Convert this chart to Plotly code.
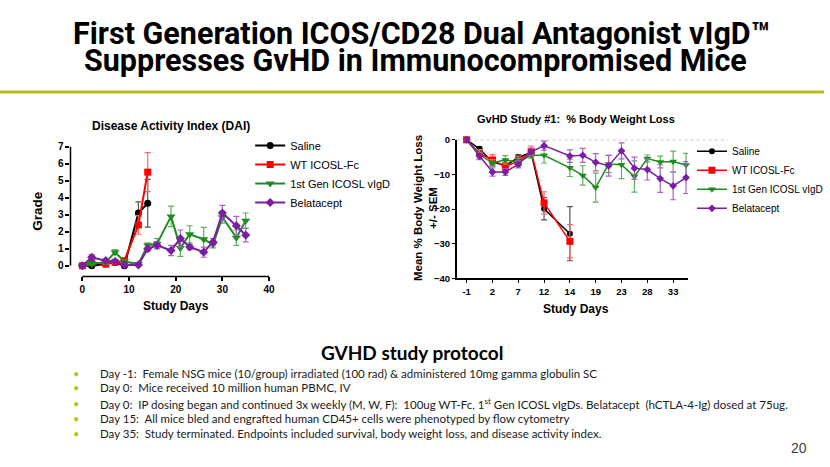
import plotly.graph_objects as go

W, H = 830, 467
def px(x): return x / W
def py(y): return 1 - y / H

# ---------------- Disease Activity Index (DAI) ----------------
dai_days_short = [0, 2, 5, 7, 9, 12, 14]
dai_saline = [0, 0, 0.1, 0.2, 0, 3.1, 3.67]
dai_saline_sem = [0, 0, 0.05, 0.1, 0, 0.65, 1.4]
dai_wt = [0, 0.2, 0.1, 0.2, 0.3, 2.4, 5.5]
dai_wt_sem = [0, 0.1, 0.05, 0.1, 0.1, 0.55, 1.15]
dai_days_long = [0, 2, 5, 7, 9, 12, 14, 16, 19, 21, 23, 26, 28, 30, 33, 35]
dai_gen1 = [0, 0.1, 0.2, 0.8, 0.25, 0.1, 1.2, 1.3, 2.9, 1.05, 1.85, 1.55, 1.25, 2.85, 1.65, 2.65]
dai_gen1_sem = [0, 0.05, 0.1, 0.15, 0.1, 0.05, 0.15, 0.3, 0.6, 0.5, 0.5, 0.7, 0.2, 0.35, 0.45, 0.45]
dai_bela = [0, 0.5, 0.3, 0.25, 0.05, 0.05, 1.0, 1.2, 0.9, 1.6, 1.1, 0.8, 1.4, 3.1, 2.35, 1.8]
dai_bela_sem = [0, 0.15, 0.1, 0.1, 0.05, 0.05, 0.15, 0.2, 0.3, 0.5, 0.15, 0.3, 0.2, 0.45, 0.55, 0.4]
dai_xticks = [0, 10, 20, 30, 40]
dai_yticks = [0, 1, 2, 3, 4, 5, 6, 7]

# ---------------- % Body Weight Loss ----------------
bw_slots_short = [0, 1, 2, 3, 4, 5, 6, 8]
bw_slots_long = [0, 1, 2, 3, 4, 5, 6, 8, 9, 10, 11, 12, 13, 14, 15, 16, 17]
bw_tick_slots = [0, 2, 4, 6, 8, 10, 12, 14, 16]
bw_tick_labels = ["-1", "2", "7", "12", "14", "19", "23", "28", "33"]
bw_saline = [0, -2.6, -6.4, -7.5, -5.1, -3.7, -19.9, -27.1]
bw_saline_sem = [0, 0.5, 1.0, 1.0, 0.8, 1.0, 3.2, 7.8]
bw_wt = [0, -3.9, -5.8, -7.7, -6.2, -3.3, -18.2, -29.3]
bw_wt_sem = [0, 1.0, 1.5, 1.2, 1.5, 1.5, 3.2, 4.8]
bw_gen1 = [0, -4.2, -6.7, -5.8, -6.5, -4.5, -4.5, -8.1, -10.3, -13.8, -7.0, -7.2, -10.6, -5.4, -6.4, -6.3, -7.3]
bw_gen1_sem = [0, 1.3, 1.0, 1.2, 1.2, 0.8, 2.2, 2.5, 2.8, 4.2, 2.5, 4.0, 4.5, 1.0, 1.7, 3.0, 3.4]
bw_bela = [0, -4.7, -9.3, -9.3, -7.1, -3.5, -1.7, -4.7, -4.5, -6.5, -7.5, -3.2, -8.2, -8.6, -11.2, -13.3, -10.9]
bw_bela_sem = [0, 1.0, 1.2, 1.0, 1.0, 1.0, 1.3, 1.8, 2.0, 2.5, 3.0, 2.3, 3.2, 3.0, 4.0, 4.0, 4.6]
bw_yticks = [0, -10, -20, -30, -40]

series_names = ["Saline", "WT ICOSL-Fc", "1st Gen ICOSL vIgD", "Belatacept"]
colors = ["#000000", "#FF0000", "#1E8C1E", "#7B1FA2"]
err_colors = ["#555555", "#FF6666", "#5DB35D", "#A566C4"]
symbols = ["circle", "square", "triangle-down", "diamond"]

bullets = [
    "Day -1:  Female NSG mice (10/group) irradiated (100 rad) &amp; administered 10mg gamma globulin SC",
    "Day 0:  Mice received 10 million human PBMC, IV",
    "Day 0:  IP dosing began and continued 3x weekly (M, W, F):  100ug WT-Fc, 1<sup>st</sup> Gen ICOSL vIgDs. Belatacept  (hCTLA-4-Ig) dosed at 75ug.",
    "Day 15:  All mice bled and engrafted human CD45+ cells were phenotyped by flow cytometry",
    "Day 35:  Study terminated. Endpoints included survival, body weight loss, and disease activity index.",
]

FONT = "Liberation Sans, Arial, sans-serif"
fig = go.Figure()

dai_sets = [
    (dai_days_short, dai_saline, dai_saline_sem),
    (dai_days_short, dai_wt, dai_wt_sem),
    (dai_days_long, dai_gen1, dai_gen1_sem),
    (dai_days_long, dai_bela, dai_bela_sem),
]
msz_left = [7, 7, 8, 7]
for i, (xs, ys, es) in enumerate(dai_sets):
    fig.add_trace(go.Scatter(
        x=xs, y=ys, mode="lines+markers", name=series_names[i],
        line=dict(color=colors[i], width=2),
        marker=dict(symbol=symbols[i], size=msz_left[i], color=colors[i]),
        error_y=dict(type="data", array=es, color=err_colors[i], thickness=1.2, width=3),
        xaxis="x", yaxis="y", legend="legend", cliponaxis=False,
    ))

bw_sets = [
    (bw_slots_short, bw_saline, bw_saline_sem),
    (bw_slots_short, bw_wt, bw_wt_sem),
    (bw_slots_long, bw_gen1, bw_gen1_sem),
    (bw_slots_long, bw_bela, bw_bela_sem),
]
msz_right = [6, 7, 7, 6]
for i, (xs, ys, es) in enumerate(bw_sets):
    fig.add_trace(go.Scatter(
        x=xs, y=ys, mode="lines+markers", name=series_names[i],
        line=dict(color=colors[i], width=1.5),
        marker=dict(symbol=symbols[i], size=msz_right[i], color=colors[i]),
        error_y=dict(type="data", array=es, color=err_colors[i], thickness=1.2, width=3),
        xaxis="x2", yaxis="y2", legend="legend2", cliponaxis=False,
    ))

tickf = dict(family=FONT, size=10, color="#000", weight="bold")
fig.update_layout(
    width=W, height=H, margin=dict(l=0, r=0, t=0, b=0),
    paper_bgcolor="white", plot_bgcolor="white",
    xaxis=dict(domain=[px(71), px(271)], range=[-2.55, 40], tickvals=dai_xticks,
               showgrid=False, zeroline=False, showline=False, ticks="outside",
               ticklen=4, tickwidth=1.5, tickcolor="#000", tickfont=tickf, anchor="y"),
    yaxis=dict(domain=[py(277), py(144)], range=[-0.63, 7], tickvals=dai_yticks,
               showgrid=False, zeroline=False, showline=False, ticks="outside",
               ticklen=4, tickwidth=1.5, tickcolor="#000", tickfont=tickf, anchor="x"),
    xaxis2=dict(domain=[px(460), px(693)], range=[-0.77, 17.15], tickvals=bw_tick_slots,
                ticktext=bw_tick_labels, showgrid=False, zeroline=False, showline=True,
                linecolor="#000", linewidth=1.5, ticks="outside", ticklen=3, tickwidth=1,
                tickcolor="#000", tickfont=dict(family=FONT, size=9.5, color="#000", weight="bold"),
                anchor="y2"),
    yaxis2=dict(domain=[py(279), py(137)], range=[-40, 0], tickvals=bw_yticks,
                showgrid=False, zeroline=False, showline=True, linecolor="#000", linewidth=1.5,
                ticks="outside", ticklen=3, tickwidth=1, tickcolor="#000",
                tickfont=dict(family=FONT, size=9.5, color="#000", weight="bold"), anchor="x2"),
    legend=dict(x=px(252), y=py(128), xanchor="left", yanchor="top",
                font=dict(family=FONT, size=11, color="#000"), bgcolor="rgba(0,0,0,0)",
                tracegroupgap=0, itemwidth=30),
    legend2=dict(x=px(697), y=py(134), xanchor="left", yanchor="top",
                 font=dict(family=FONT, size=10, color="#000"), bgcolor="rgba(0,0,0,0)",
                 tracegroupgap=0, itemwidth=30),
    showlegend=True,
)

shapes = [
    # slide separator
    dict(type="line", xref="paper", yref="paper", x0=0, x1=1, y0=py(88), y1=py(88),
         line=dict(color="#B5BD1C", width=3)),
    # DAI offset axes
    dict(type="line", xref="x domain", yref="y", x0=0, x1=0, y0=0, y1=7,
         line=dict(color="#000", width=1.5)),
    dict(type="line", xref="x", yref="y domain", x0=0, x1=40, y0=0, y1=0,
         line=dict(color="#000", width=1.5)),
    # zero reference line
    dict(type="line", xref="paper", yref="y2", x0=px(460), x1=px(733), y0=0, y1=0,
         line=dict(color="#888", width=1, dash="dot")),
]
fig.update_layout(shapes=shapes)

ann = []
def A(text, x, y, size, bold=False, family=FONT, color="#000", xanchor="center", yanchor="middle", angle=0):
    ann.append(dict(text=text, x=px(x), y=py(y), xref="paper", yref="paper", showarrow=False,
                    xanchor=xanchor, yanchor=yanchor, textangle=angle,
                    font=dict(family=family, size=size, color=color, weight="bold" if bold else "normal")))

TITLE_FONT = "Roboto, Arial, sans-serif"
A("First Generation ICOS/CD28 Dual Antagonist vIgD™", 425, 28, 30.5, True, TITLE_FONT)
A("Suppresses GvHD in Immunocompromised Mice", 419, 56, 30.5, True, TITLE_FONT)

A("Disease Activity Index (DAI)", 172, 123, 12, True)
A("Grade", 37, 210, 13.5, True, angle=-90)
A("Study Days", 177, 307, 12, True)

A("GvHD Study #1:  % Body Weight Loss", 580, 116, 11, True)
A("Mean % Body Weight Loss<br>+/- SEM", 428, 207, 11.5, True, angle=-90)
A("Study Days", 580, 310, 12, True)

BODY = "Lato, Carlito, Calibri, sans-serif"
A("GVHD study protocol", 415, 355, 19, True, BODY)
ys = [376, 391, 407, 422, 438]
for t, y in zip(bullets, ys):
    A("•", 77, y, 11, False, BODY, color="#B5C41A")
    A(t, 99, y, 11.5, False, BODY, xanchor="left", color="#1a1a1a")
A("20", 815, 453, 14, False, "Liberation Sans, Arial", color="#404040", xanchor="right")

fig.update_layout(annotations=ann)
fig.write_html("out.html", config={"displayModeBar": False},
               post_script="document.body.style.margin='0';document.body.style.padding='0';")
